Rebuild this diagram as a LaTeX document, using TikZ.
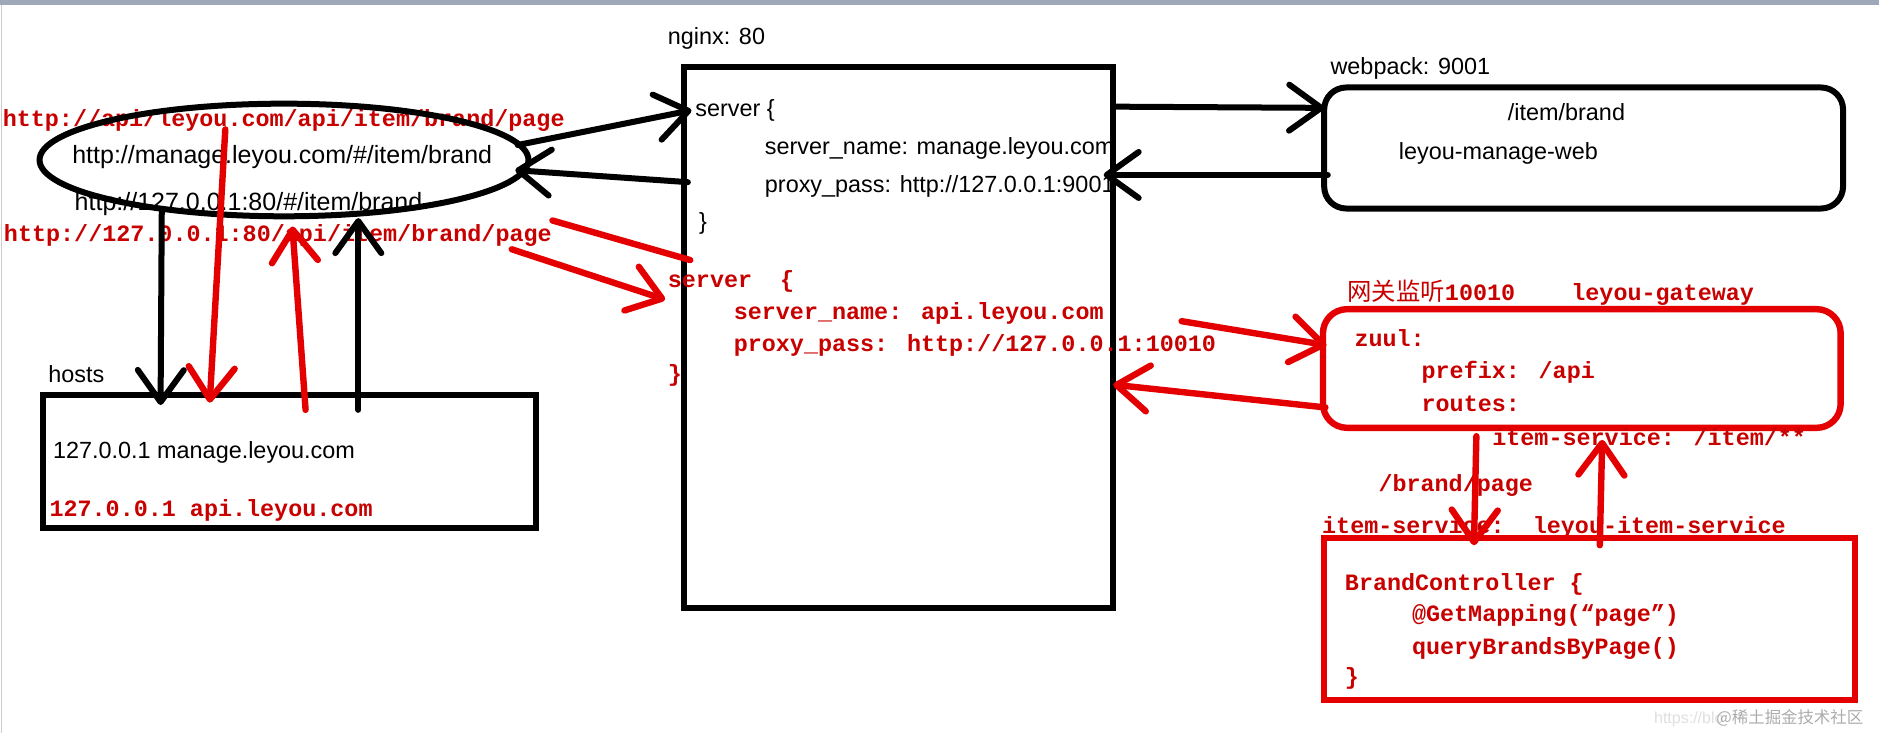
\documentclass[tikz,border=0pt]{standalone}
\usepackage{fontspec}
\setmainfont{Liberation Sans}
\newfontfamily\monof{Liberation Mono}
\newfontfamily\cjkf{Noto Sans CJK SC}
\usetikzlibrary{arrows.meta,shapes.geometric,fit}
\definecolor{redL}{RGB}{228,0,0}
\definecolor{redT}{RGB}{200,0,0}
\definecolor{bandc}{RGB}{158,168,184}
\begin{document}
\begin{tikzpicture}[x=0.599pt,y=-0.599pt,
  txt/.style={anchor=west,inner sep=0pt,text height=1.5ex,text depth=.25ex},
  sans/.style={txt,font=\fontsize{11.7}{14}\selectfont},
  big/.style={txt,font=\fontsize{12.5}{15}\selectfont},
  mono/.style={txt,font=\monof\bfseries\fontsize{11.7}{14}\selectfont,text=redT},
  blk/.style={draw=black,line width=3pt},
  rdl/.style={draw=redL,line width=3.2pt},
  hd/.style={-{Straight Barb[round,length=16pt,width=23pt]},line cap=round},
  boxed/.style={inner sep=0pt,line width=3pt}
]
\useasboundingbox (0,0) rectangle (1568,612);
\fill[white] (0,0) rectangle (1568,612);
\fill[bandc] (0,0) rectangle (1568,4);
\draw[gray!40,line width=0.6pt] (1,4) -- (1,612);

% ---------- nginx ----------
\node[sans] (nginxlbl) at (557,32) {nginx: 80};
\node[boxed,draw=black,fit={(571,56) (929,507)}] (nginx) {};
\node[sans] (s1) at (580,92) {server \{};
\node[sans] (s1n) at (638,123.5) {server\_name: manage.leyou.com};
\node[sans] (s1p) at (638,155) {proxy\_pass: http://127.0.0.1:9001};
\node[sans] (s1e) at (583,186) {\}};
\node[mono] (s2) at (557,234) {server\ \ \{};
\node[mono] (s2n) at (612,261) {server\_name: api.leyou.com};
\node[mono] (s2p) at (612,288) {proxy\_pass: http://127.0.0.1:10010};
\node[mono] (s2e) at (557,313) {\}};

% ---------- webpack ----------
\node[sans] (wplbl) at (1110,57) {webpack: 9001};
\node[boxed,draw=black,rounded corners=11pt,fit={(1105,73) (1538,174)}] (webpack) {};
\node[sans] (wp1) at (1258,95) {/item/brand};
\node[sans] (wp2) at (1167,128) {leyou-manage-web};

% ---------- browser ----------
\node[mono] (u1) at (2,100) {http://api/leyou.com/api/item/brand/page};
\node[big] (u3) at (62,170) {http://127.0.0.1:80/\#/item/brand};
\node[draw=black,line width=3pt,ellipse,inner sep=0pt,minimum width=244.4pt,minimum height=56.3pt] (browser) at (237,133.5) {};
\node[big] (u2) at (60,131) {http://manage.leyou.com/\#/item/brand};
\node[mono] (u4) at (3,196) {http://127.0.0.1:80/api/item/brand/page};

% ---------- hosts ----------
\node[sans] (hostslbl) at (40,314) {hosts};
\node[boxed,draw=black,fit={(36,330) (447,441)}] (hosts) {};
\node[sans] (h1) at (44,377) {127.0.0.1 manage.leyou.com};
\node[mono] (h2) at (41,425.5) {127.0.0.1 api.leyou.com};

% ---------- gateway ----------
\node[txt,font=\fontsize{11.7}{14}\selectfont,text=redT] (gwlbl) at (1124,245) {{\cjkf\fontsize{12.2}{14}\selectfont 网关监听}{\monof\bfseries 10010\ \ \ \ leyou-gateway}};
\node[boxed,draw=redL,line width=3.2pt,rounded corners=12pt,fit={(1104,258) (1536,357)}] (gateway) {};
\node[mono] (g1) at (1130,284) {zuul:};
\node[mono] (g2) at (1186,310) {prefix: /api};
\node[mono] (g3) at (1186,338) {routes:};
\node[mono] (g4) at (1245,366) {item-service: /item/**};
\node[mono] (bp) at (1150,405) {/brand/page};

% ---------- item-service ----------
\node[mono] (islbl) at (1103,440) {item-service:\ \ leyou-item-service};
\node[boxed,draw=redL,line width=3.2pt,fit={(1105,449) (1548,584)}] (item) {};
\node[mono] (i1) at (1122,487) {BrandController \{};
\node[mono] (i2) at (1178,513) {@GetMapping(“page”)};
\node[mono] (i3) at (1178,541) {queryBrandsByPage()};
\node[mono] (i4) at (1122,566) {\}};

% watermark
\node[txt,font=\fontsize{8}{10}\selectfont,text=gray!25] (wm1) at (1380,598) {https://blo};
\node[txt,font=\cjkf\fontsize{8.2}{10}\selectfont,text=gray!65] (wm2) at (1432,598) {@稀土掘金技术社区};

% ---------- connector end points ----------
\coordinate (a1) at (432,121);  \coordinate (a2) at (577,92);
\coordinate (b1) at (574,152);  \coordinate (b2) at (430,142);
\coordinate (c1) at (929,89);   \coordinate (c2) at (1105,90);
\coordinate (d1) at (1108,146); \coordinate (d2) at (921,146);
\coordinate (e1) at (135,175);  \coordinate (e2) at (134,338);
\coordinate (f1) at (299,342);  \coordinate (f2) at (299,182);
\coordinate (g1s) at (188,108); \coordinate (g2s) at (175,336);
\coordinate (h1s) at (255,342); \coordinate (h2s) at (244,189);
\coordinate (r1) at (461,184);  \coordinate (r2) at (576,217);
\coordinate (k1) at (427,208);  \coordinate (k2) at (555,250);
\coordinate (j1) at (986,268);  \coordinate (j2) at (1107,288);
\coordinate (m1) at (1106,340); \coordinate (m2) at (929,321);
\coordinate (l1) at (1232,364); \coordinate (l2) at (1230,455);
\coordinate (n1) at (1335,455); \coordinate (n2) at (1337,367);

% black connectors
\draw[blk,hd] (a1) -- (a2);
\draw[blk,hd] (b1) -- (b2);
\draw[blk,hd] (c1) -- (c2);
\draw[blk,hd] (d1) -- (d2);
\draw[blk,hd] (e1) -- (e2);
\draw[blk,hd] (f1) -- (f2);
% red connectors
\draw[rdl,hd] (g1s) -- (g2s);
\draw[rdl,hd] (h1s) -- (h2s);
\draw[rdl,line cap=round] (r1) -- (r2);
\draw[rdl,hd] (k1) -- (k2);
\draw[rdl,hd] (j1) -- (j2);
\draw[rdl,hd] (m1) -- (m2);
\draw[rdl,hd] (l1) -- (l2);
\draw[rdl,hd] (n1) -- (n2);
\end{tikzpicture}
\end{document}
